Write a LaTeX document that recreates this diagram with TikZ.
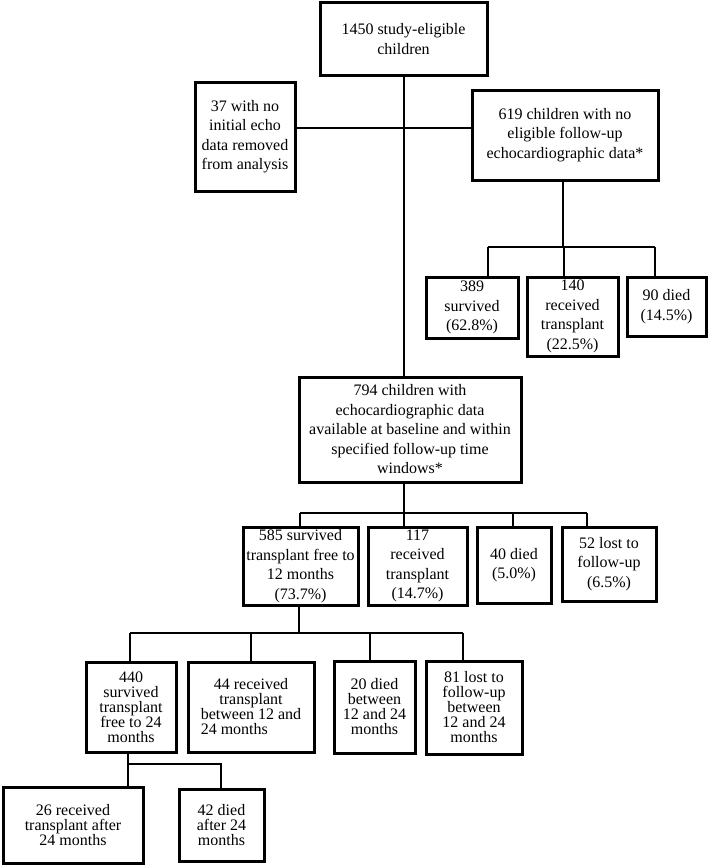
\documentclass[tikz,border=0pt]{standalone}
\usepackage{fontspec}
\setmainfont{Liberation Serif}
\usepackage{calc}
\newcommand{\upfnt}{\fontsize{16}{19.5}\selectfont}
\newcommand{\lofnt}{\fontsize{16}{15}\selectfont}
\begin{document}
\begin{tikzpicture}[x=1pt,y=-1pt,
  box/.style={draw, line width=3pt, rectangle, inner sep=0pt, align=center, font=\upfnt},
  lbox/.style={box, font=\lofnt},
  conn/.style={line width=2.8pt}]
\fill[white] (0,0) rectangle (709,867);
\useasboundingbox (0,0) rectangle (709,867);

% row 0
\node[box, minimum width=167pt, minimum height=72pt] (top) at (403.5,39) {1450 study-eligible\\children};
\node[box, minimum width=100pt, minimum height=109pt] (left) at (245,136.5) {37 with no\\initial echo\\data removed\\from analysis};
\node[box, minimum width=186pt, minimum height=90pt] (b619) at (565,135) {619 children with no\\eligible follow-up\\echocardiographic data*};

% row 1
\node[box, minimum width=92pt, minimum height=61pt] (s389) at (472,307.5) {389\\survived\\(62.8\%)};
\node[box, minimum width=91pt, minimum height=79pt] (r140) at (572.5,316.5) {140\\received\\transplant\\(22.5\%)};
\node[box, minimum width=79pt, minimum height=59pt] (d90) at (666.5,306.5) {90 died\\(14.5\%)};

% 794
\node[box, minimum width=222pt, minimum height=105pt] (b794) at (410,429.5) {794 children with\\echocardiographic data\\available at baseline and within\\specified follow-up time\\windows*};

% row 2
\node[box, minimum width=115pt, minimum height=78pt] (s585) at (300.5,566) {585 survived\\transplant free to\\12 months\\(73.7\%)};
\node[box, minimum width=99pt, minimum height=78pt] (r117) at (417.5,566) {117\\received\\transplant\\(14.7\%)};
\node[box, minimum width=74pt, minimum height=76pt] (d40) at (514,565) {40 died\\(5.0\%)};
\node[box, minimum width=94pt, minimum height=74pt] (l52) at (609,564) {52 lost to\\follow-up\\(6.5\%)};

% row 3
\node[lbox, minimum width=90pt, minimum height=90pt] (s440) at (131,707) {440\\survived\\transplant\\free to 24\\months};
\node[lbox, minimum width=126pt, minimum height=90pt] (r44) at (251,707) {44 received\\transplant\\between 12 and\\\makebox[\widthof{between 12 and}][l]{24 months}};
\node[lbox, minimum width=81pt, minimum height=92pt] (d20) at (374.5,707) {20 died\\between\\12 and 24\\months};
\node[lbox, minimum width=96pt, minimum height=93pt] (l81) at (474,707.5) {81 lost to\\follow-up\\between\\12 and 24\\months};

% row 4
\node[lbox, minimum width=140pt, minimum height=76pt] (r26) at (73,825) {26 received\\transplant after\\24 months};
\node[lbox, minimum width=85pt, minimum height=72pt] (d42) at (221.5,825) {42 died\\after 24\\months};

% connectors top
\coordinate (hj) at (404,128);
\draw[conn] (top.south -| hj) -- (hj |- b794.north);
\draw[conn] (hj -| left.east) -- (hj -| b619.west);

% 619 children
\coordinate (j1) at (563,247);
\coordinate (a1) at (488,247);
\coordinate (a2) at (564,247);
\coordinate (a3) at (655,247);
\draw[conn] (j1 |- b619.south) -- (j1);
\draw[conn] (a1) -- (a3);
\draw[conn] (a1) -- (a1 |- s389.north);
\draw[conn] (a2) -- (a2 |- r140.north);
\draw[conn] (a3) -- (a3 |- d90.north);

% 794 children
\coordinate (j2) at (404,513);
\coordinate (b1) at (300,513);
\coordinate (b3) at (513,513);
\coordinate (b4) at (587,513);
\draw[conn] (j2 |- b794.south) -- (j2);
\draw[conn] (b1) -- (b4);
\draw[conn] (b1) -- (b1 |- s585.north);
\draw[conn] (j2) -- (j2 |- r117.north);
\draw[conn] (b3) -- (b3 |- d40.north);
\draw[conn] (b4) -- (b4 |- l52.north);

% 585 children
\coordinate (j3) at (299,633);
\coordinate (c1) at (130,633);
\coordinate (c2) at (251,633);
\coordinate (c3) at (370,633);
\coordinate (c4) at (463,633);
\draw[conn] (j3 |- s585.south) -- (j3);
\draw[conn] (c1) -- (c4);
\draw[conn] (c1) -- (c1 |- s440.north);
\draw[conn] (c2) -- (c2 |- r44.north);
\draw[conn] (c3) -- (c3 |- d20.north);
\draw[conn] (c4) -- (c4 |- l81.north);

% 440 children
\coordinate (d1) at (128,764);
\coordinate (d2) at (221,764);
\draw[conn] (d1 |- s440.south) -- (d1 |- r26.north);
\draw[conn] (d1) -- (d2) -- (d2 |- d42.north);
\end{tikzpicture}
\end{document}
